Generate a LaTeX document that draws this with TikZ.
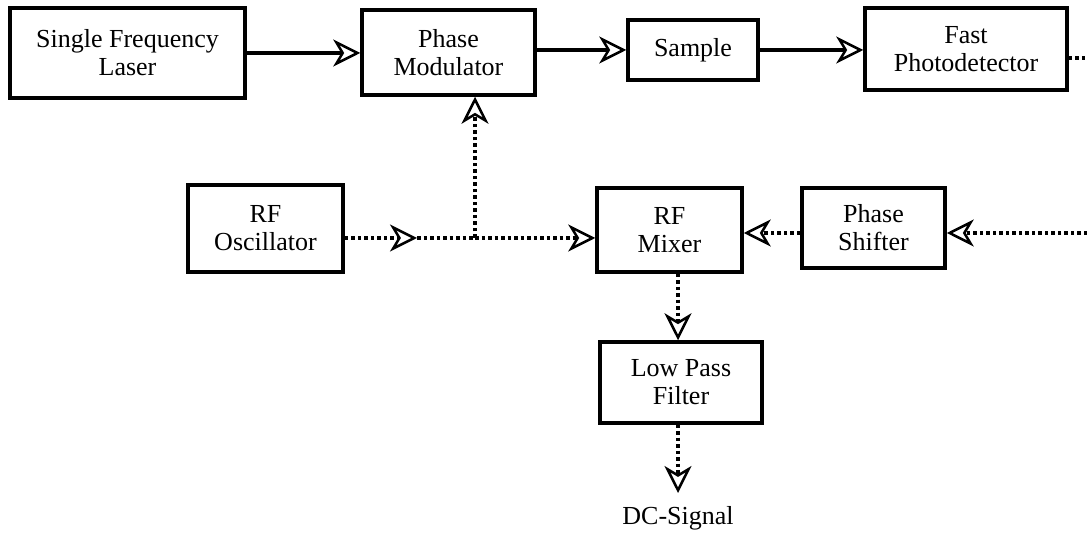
\documentclass[tikz,border=0pt]{standalone}
\usepackage{fontspec}
\setmainfont{Liberation Serif}
\usetikzlibrary{arrows.meta}
\begin{document}
\begin{tikzpicture}[x=1pt,y=1pt,
  blk/.style={draw, line width=3.5pt, minimum width=#1, inner sep=0pt, align=center,
              font=\fontsize{26}{28}\selectfont},
  lbl/.style={inner sep=0pt, font=\fontsize{26}{28}\selectfont},
  tip/.style={-{Stealth[open, length=27pt, width=27pt, inset=8pt, line width=2.5pt]}},
  solidarrow/.style={line width=3.5pt, tip},
  dotline/.style={line width=3.5pt, dash pattern=on 3.5pt off 3pt},
  dotarrow/.style={dotline, tip}]
\useasboundingbox (0,0) rectangle (1087,533);
% boxes (centres from image coordinates, y flipped)
\node[blk=235pt, minimum height=90pt] (laser) at (127.5,480) {Single Frequency\\Laser};
\node[blk=173pt, minimum height=85pt] (pm) at (448.5,480.5) {Phase\\Modulator};
\node[blk=130pt, minimum height=60pt] (sample) at (693,483) {Sample};
\node[blk=202pt, minimum height=82pt] (pd) at (966,484) {Fast\\Photodetector};
\node[blk=155pt, minimum height=87pt] (osc) at (265.5,304.5) {RF\\Oscillator};
\node[blk=145pt, minimum height=84pt] (mixer) at (669.5,303) {RF\\Mixer};
\node[blk=143pt, minimum height=80pt] (ps) at (873.5,305) {Phase\\Shifter};
\node[blk=162pt, minimum height=81pt] (lpf) at (681,150.5) {Low Pass\\Filter};
\node[lbl] (dc) at (678,15) {DC-Signal};
% helper coordinates
\coordinate (rfline) at (0,295);
\coordinate (mid) at (417,295);
\coordinate (junc) at (475,295);
\coordinate (r1) at (1087,475);
\coordinate (r2) at (1087,300);
\coordinate (vx) at (678,0);
\coordinate (dctip) at (678,40);
% solid connectors
\draw[solidarrow] (laser.east) -- (laser.east -| pm.west);
\draw[solidarrow] (pm.east |- sample.west) -- (sample.west);
\draw[solidarrow] (sample.east) -- (sample.east -| pd.west);
% dotted connectors
\draw[dotline] (pd.east |- r1) -- (r1);
\draw[dotarrow] (osc.east |- rfline) -- (mid);
\draw[dotline] (mid) -- (junc);
\draw[dotarrow] (junc) -- (mixer.west |- rfline);
\draw[dotarrow] (junc) -- (junc |- pm.south);
\draw[dotarrow] (r2) -- (ps.east |- r2);
\draw[dotarrow] (ps.west |- r2) -- (mixer.east |- r2);
\draw[dotarrow] (mixer.south -| vx) -- (lpf.north -| vx);
\draw[dotarrow] (lpf.south -| vx) -- (dctip);
\end{tikzpicture}
\end{document}
